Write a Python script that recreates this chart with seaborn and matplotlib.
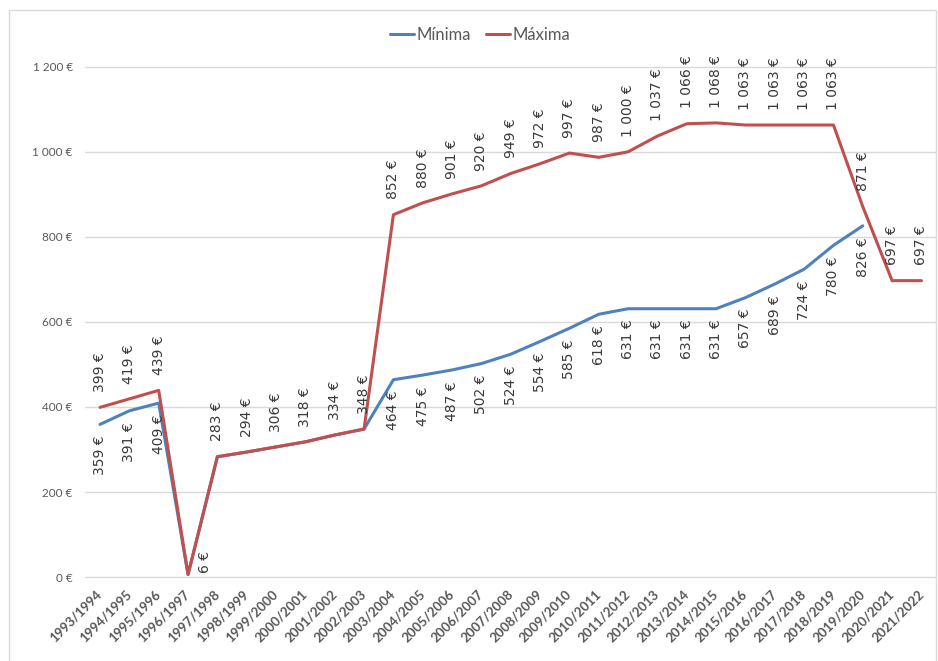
import numpy as np
import pandas as pd
import matplotlib
matplotlib.use("Agg")
import matplotlib.pyplot as plt
from matplotlib.patches import Rectangle
import seaborn as sns

# -------------------------------------------------------------------
# Data
# -------------------------------------------------------------------
cursos = ["1993/1994", "1994/1995", "1995/1996", "1996/1997", "1997/1998",
          "1998/1999", "1999/2000", "2000/2001", "2001/2002", "2002/2003",
          "2003/2004", "2004/2005", "2005/2006", "2006/2007", "2007/2008",
          "2008/2009", "2009/2010", "2010/2011", "2011/2012", "2012/2013",
          "2013/2014", "2014/2015", "2015/2016", "2016/2017", "2017/2018",
          "2018/2019", "2019/2020", "2020/2021", "2021/2022"]

minima = [359, 391, 409, 6, 283, 294, 306, 318, 334, 348,
          464, 475, 487, 502, 524, 554, 585, 618, 631, 631,
          631, 631, 657, 689, 724, 780, 826, np.nan, np.nan]

maxima = [399, 419, 439, 6, 283, 294, 306, 318, 334, 348,
          852, 880, 901, 920, 949, 972, 997, 987, 1000, 1037,
          1066, 1068, 1063, 1063, 1063, 1063, 871, 697, 697]

y_ticks = [0, 200, 400, 600, 800, 1000, 1200]

colores = {"Mínima": "#4F81BD", "Máxima": "#C0504D"}


def euro(v):
    # "1 066 €" style, space as thousands separator
    return f"{int(v):,}".replace(",", " ") + " €"


df = pd.concat([
    pd.DataFrame({"curso": cursos, "valor": minima, "serie": "Mínima"}),
    pd.DataFrame({"curso": cursos, "valor": maxima, "serie": "Máxima"}),
], ignore_index=True)

# -------------------------------------------------------------------
# Plot
# -------------------------------------------------------------------
sns.set_theme(style="white")
plt.rcParams["font.family"] = ["Lato", "DejaVu Sans"]

fig = plt.figure(figsize=(9.38, 6.61), dpi=100)
ax = fig.add_axes([0.091, 0.127, 0.907, 0.772])

sns.lineplot(data=df, x="curso", y="valor", hue="serie", palette=colores,
             hue_order=["Mínima", "Máxima"], sort=False, linewidth=2.2,
             ax=ax, legend=True)

ax.set_xlim(-0.5, len(cursos) - 0.5)
ax.set_ylim(0, 1200)
ax.set_yticks(y_ticks)
ax.set_yticklabels([euro(v) for v in y_ticks])
ax.set_xlabel("")
ax.set_ylabel("")

ax.grid(axis="y", color="#d9d9d9", linewidth=1)
ax.grid(axis="x", visible=False)
for gl in ax.get_ygridlines():
    gl.set_clip_on(False)
for s in ax.spines.values():
    s.set_visible(False)

ax.tick_params(axis="y", length=0, pad=9, labelsize=8.5, labelcolor="#595959")
ax.tick_params(axis="x", length=0, pad=11, labelsize=9.5, labelcolor="#595959")
for lbl in ax.get_xticklabels():
    lbl.set_rotation(45)
    lbl.set_ha("right")
    lbl.set_va("center")
    lbl.set_rotation_mode("anchor")
    lbl.set_fontweight("bold")

# data labels
lab_kw = dict(rotation=90, ha="center", fontsize=10, color="#3a3a3a",
              family="DejaVu Sans", textcoords="offset points")
for i, (lo, hi) in enumerate(zip(minima, maxima)):
    if hi == 6:
        ax.annotate(euro(hi), (i, hi), xytext=(12, 1), va="bottom", **lab_kw)
        continue
    ax.annotate(euro(hi), (i, hi), xytext=(0, 11), va="bottom", **lab_kw)
    if not np.isnan(lo) and lo != hi:
        ax.annotate(euro(lo), (i, lo), xytext=(0, -8), va="top", **lab_kw)

# legend on top
handles, labels = ax.get_legend_handles_labels()
ax.legend_.remove()
fig.legend(handles, labels, loc="center", bbox_to_anchor=(0.512, 0.947),
           ncol=2, frameon=False, fontsize=12, handlelength=1.45,
           handletextpad=0.15, columnspacing=0.9, labelcolor="#595959")

# light frame around the chart area
fig.patches.append(Rectangle((9 / 938, -0.01), 927 / 938, 1 - 10 / 661 + 0.01,
                             transform=fig.transFigure, fill=False,
                             edgecolor="#d9d9d9", linewidth=1))

fig.savefig("out.png", dpi=100)
plt.close(fig)
